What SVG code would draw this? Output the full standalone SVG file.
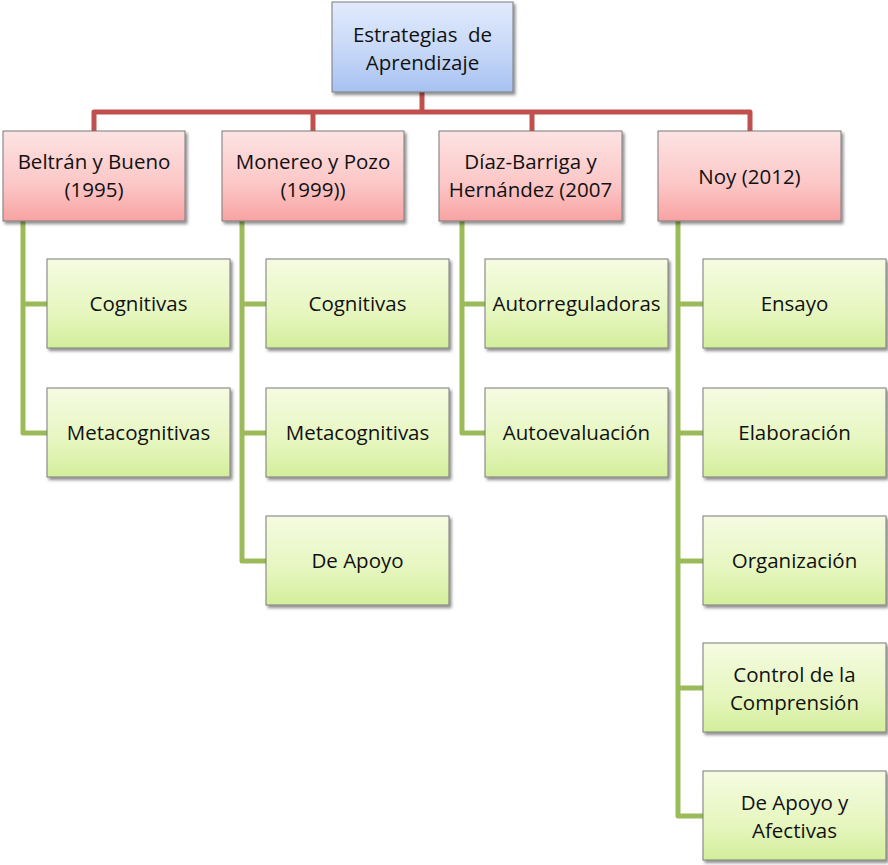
<svg xmlns="http://www.w3.org/2000/svg" width="888" height="865" viewBox="0 0 888 865">
<defs>
<linearGradient id="gBlue" x1="0" y1="0" x2="0" y2="1">
<stop offset="0" stop-color="#e2ebfc"/><stop offset="0.6" stop-color="#c3d5f7"/><stop offset="1" stop-color="#a6c1f1"/>
</linearGradient>
<linearGradient id="gPink" x1="0" y1="0" x2="0" y2="1">
<stop offset="0" stop-color="#fde3e3"/><stop offset="0.6" stop-color="#fcc6c6"/><stop offset="1" stop-color="#f8a2a2"/>
</linearGradient>
<linearGradient id="gGreen" x1="0" y1="0" x2="0" y2="1">
<stop offset="0" stop-color="#f5fbe2"/><stop offset="0.6" stop-color="#e6f6bf"/><stop offset="1" stop-color="#d3ee9b"/>
</linearGradient>
<filter id="sh" x="-10%" y="-10%" width="125%" height="130%">
<feDropShadow dx="2" dy="2.5" stdDeviation="1.5" flood-color="#000" flood-opacity="0.45"/>
</filter>
</defs>
<style>
.box{stroke:#7a7a7a;stroke-width:1;filter:url(#sh)}
.top{fill:url(#gBlue)}
.l1{fill:url(#gPink)}
.l2{fill:url(#gGreen)}
text{font-family:"Open Sans","Liberation Sans",sans-serif;font-size:20.5px;fill:#111;text-anchor:middle}
.red{fill:none;stroke:#c0504d;stroke-width:5;stroke-linejoin:round}
.green{fill:none;stroke:#9bbb59;stroke-width:5;stroke-linejoin:round}
</style>
<g id="connectors">
<path class="red" d="M422,92 V112 M94,131 V112 H750 V131 M313,112 V131 M532,112 V131"/>
<path class="green" d="M23,221 V433 H47 M23,304 H47"/>
<path class="green" d="M242,221 V561 H266 M242,304 H266 M242,433 H266"/>
<path class="green" d="M462,221 V433 H485 M462,304 H485"/>
<path class="green" d="M678,221 V816 H703 M678,304 H703 M678,433 H703 M678,561 H703 M678,688 H703"/>
</g>
<g id="n0"><rect class="box top" x="332" y="2" width="181" height="90"/><text x="422.5" y="42" xml:space="preserve">Estrategias  de</text><text x="422.5" y="70">Aprendizaje</text></g>
<g id="n1"><rect class="box l1" x="3" y="131" width="182" height="90"/><text x="94" y="169">Beltrán y Bueno</text><text x="94" y="197">(1995)</text></g>
<g id="n2"><rect class="box l1" x="222" y="131" width="182" height="90"/><text x="313" y="169">Monereo y Pozo</text><text x="313" y="197">(1999))</text></g>
<g id="n3"><rect class="box l1" x="439" y="131" width="183" height="90"/><text x="530.5" y="169">Díaz-Barriga y</text><text x="530.5" y="197">Hernández (2007</text></g>
<g id="n4"><rect class="box l1" x="658" y="131" width="183" height="90"/><text x="749.5" y="184">Noy (2012)</text></g>
<g id="n1a"><rect class="box l2" x="47" y="259" width="183" height="89"/><text x="138.5" y="311">Cognitivas</text></g>
<g id="n1b"><rect class="box l2" x="47" y="388" width="183" height="89"/><text x="138.5" y="440">Metacognitivas</text></g>
<g id="n2a"><rect class="box l2" x="266" y="259" width="183" height="89"/><text x="357.5" y="311">Cognitivas</text></g>
<g id="n2b"><rect class="box l2" x="266" y="388" width="183" height="89"/><text x="357.5" y="440">Metacognitivas</text></g>
<g id="n2c"><rect class="box l2" x="266" y="516" width="183" height="89"/><text x="357.5" y="568">De Apoyo</text></g>
<g id="n3a"><rect class="box l2" x="485" y="259" width="183" height="89"/><text x="576.5" y="311">Autorreguladoras</text></g>
<g id="n3b"><rect class="box l2" x="485" y="388" width="183" height="89"/><text x="576.5" y="440">Autoevaluación</text></g>
<g id="n4a"><rect class="box l2" x="703" y="259" width="183" height="89"/><text x="794.5" y="311">Ensayo</text></g>
<g id="n4b"><rect class="box l2" x="703" y="388" width="183" height="89"/><text x="794.5" y="440">Elaboración</text></g>
<g id="n4c"><rect class="box l2" x="703" y="516" width="183" height="89"/><text x="794.5" y="568">Organización</text></g>
<g id="n4d"><rect class="box l2" x="703" y="643" width="183" height="89"/><text x="794.5" y="682">Control de la</text><text x="794.5" y="710">Comprensión</text></g>
<g id="n4e"><rect class="box l2" x="703" y="771" width="183" height="89"/><text x="794.5" y="810">De Apoyo y</text><text x="794.5" y="838">Afectivas</text></g>
</svg>
